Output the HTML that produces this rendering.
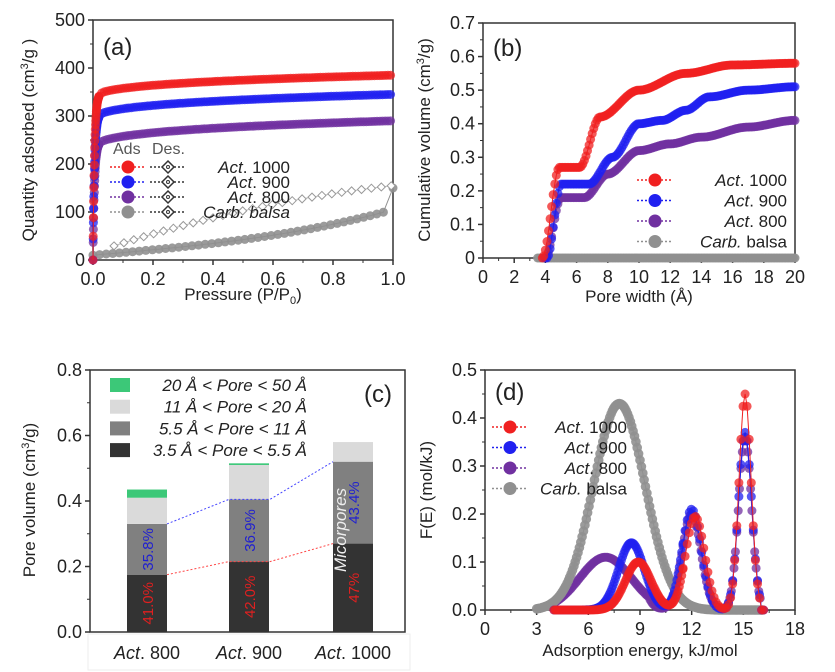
<!DOCTYPE html>
<html><head><meta charset="utf-8"><style>
body{margin:0;background:#fff;}
svg{display:block;font-family:"Liberation Sans",sans-serif;}
</style></head><body>
<svg id="s" width="835" height="672" viewBox="0 0 835 672"></svg>
<script>
let o='';
const R='#f02020',B='#2020f0',P='#7030a0',G='#909090';
function txt(x,y,t,opt={}){o+=`<text x="${x}" y="${y}" font-size="${opt.fs||16}" fill="${opt.c||'#222'}" text-anchor="${opt.a||'middle'}" ${opt.tr?`transform="${opt.tr}"`:''} ${opt.it?'font-style="italic"':''}>${t}</text>`;}
function axes(L,Rr,T,Bt,xt,yt,xmin,xmax,ymin,ymax,xl,yl,minor){
  o+=`<rect x="${L}" y="${T}" width="${Rr-L}" height="${Bt-T}" fill="none" stroke="#333" stroke-width="1.5"/>`;
  const X=v=>L+(v-xmin)/(xmax-xmin)*(Rr-L),Y=v=>Bt-(v-ymin)/(ymax-ymin)*(Bt-T);
  xt.forEach(([v,s])=>{o+=`<line x1="${X(v)}" y1="${Bt}" x2="${X(v)}" y2="${Bt+5}" stroke="#333" stroke-width="1.5"/>`;txt(X(v),Bt+25,s,{fs:18});});
  yt.forEach(([v,s])=>{o+=`<line x1="${L-5}" y1="${Y(v)}" x2="${L}" y2="${Y(v)}" stroke="#333" stroke-width="1.5"/>`;txt(L-8,Y(v)+6,s,{fs:18,a:'end'});});
  if(minor){minor.x&&minor.x.forEach(v=>o+=`<line x1="${X(v)}" y1="${Bt}" x2="${X(v)}" y2="${Bt+3}" stroke="#333"/>`);
  minor.y&&minor.y.forEach(v=>o+=`<line x1="${L-3}" y1="${Y(v)}" x2="${L}" y2="${Y(v)}" stroke="#333"/>`);}
  return [X,Y];
}
function series(pts,X,Y,c,r,op){let d='';pts.forEach(([x,y],i)=>d+=(i?'L':'M')+X(x).toFixed(1)+','+Y(y).toFixed(1));
  o+=`<path d="${d}" fill="none" stroke="${c}" stroke-width="1"/>`;
  pts.forEach(([x,y])=>o+=`<circle cx="${X(x).toFixed(1)}" cy="${Y(y).toFixed(1)}" r="${r}" fill="${c}" fill-opacity="${op||0.75}"/>`);}
function lm(x,y,c,open){o+=`<line x1="${x-18}" y1="${y}" x2="${x+18}" y2="${y}" stroke="${open?'#333':c}" stroke-dasharray="2,2" stroke-width="1.5"/>`;
  if(open)o+=`<path d="M${x},${y-6}L${x+6},${y}L${x},${y+6}L${x-6},${y}Z" fill="#fff" stroke="#333" stroke-width="1.5"/><circle cx="${x}" cy="${y}" r="1.5" fill="none" stroke="#333"/>`;
  else o+=`<circle cx="${x}" cy="${y}" r="6.5" fill="${c}"/>`;}
function interp(pts,x){if(x<=pts[0][0])return pts[0][1];for(let i=1;i<pts.length;i++){if(x<=pts[i][0]){const [x0,y0]=pts[i-1],[x1,y1]=pts[i];let t=(x-x0)/(x1-x0);t=t*t*(3-2*t);return y0+(y1-y0)*t;}}return pts[pts.length-1][1];}

// Panel (a)
let [X,Y]=axes(93,393,20,260,[[0,'0.0'],[0.2,'0.2'],[0.4,'0.4'],[0.6,'0.6'],[0.8,'0.8'],[1,'1.0']],[[0,'0'],[100,'100'],[200,'200'],[300,'300'],[400,'400'],[500,'500']],0,1,0,500,0,0,{x:[0.1,0.3,0.5,0.7,0.9],y:[50,150,250,350,450]});
txt(243,300,'Pressure (P/P<tspan font-size="11" dy="4">0</tspan><tspan dy="-4">)</tspan>',{fs:17});
txt(0,0,'Quantity adsorbed (cm<tspan font-size="11" dy="-6">3</tspan><tspan dy="6">/g )</tspan>',{fs:17,tr:'translate(34,140) rotate(-90)'});
txt(103,55,'(a)',{fs:24,a:'start'});
let ga=[],gd=[];for(let p=0;p<=0.97;p+=0.022)ga.push([p,10+55*p+40*p*p*p]);ga.push([1,150]);
series(ga,X,Y,G,4.5,0.9);
let dd='';for(let p=0.07;p<=1.001;p+=0.033){gd.push([p,15+210*p-70*p*p]);}
gd.forEach(([x,y],i)=>dd+=(i?'L':'M')+X(x)+','+Y(y));o+=`<path d="${dd}" fill="none" stroke="#bbb"/>`;
gd.forEach(([x,y])=>{const cx=X(x),cy=Y(y);o+=`<path d="M${cx},${cy-4}L${cx+4},${cy}L${cx},${cy+4}L${cx-4},${cy}Z" fill="#fff" stroke="#999"/>`;});
function iso(A,Bc){let a=[];for(let p=0;p<0.02;p+=0.0007)a.push([p,A*(1-Math.exp(-p/0.005))+Bc*Math.pow(p,0.3)]);for(let p=0.02;p<=1.001;p+=0.009)a.push([p,A*(1-Math.exp(-p/0.005))+Bc*Math.pow(p,0.3)]);return a;}
series(iso(225,65),X,Y,P,4.5);series(iso(285,60),X,Y,B,4.5);series(iso(330,55),X,Y,R,4.5);
txt(113,154,'Ads',{fs:16,a:'start',c:'#555'});txt(152,154,'Des.',{fs:16,a:'start',c:'#555'});
[[R,'1000'],[B,'900'],[P,'800'],[G,'']].forEach(([c,n],i)=>{const y=167+i*15;lm(128,y,c);lm(168,y,c,1);
 if(n)txt(290,y+6,`<tspan font-style="italic">Act</tspan>. ${n}`,{fs:17,a:'end'});else txt(290,y+6,'<tspan font-style="italic">Carb. balsa</tspan>',{fs:17,a:'end'});});

// Panel (b)
[X,Y]=axes(483,795,23,258,[0,2,4,6,8,10,12,14,16,18,20].map(v=>[v,''+v]),[0,0.1,0.2,0.3,0.4,0.5,0.6,0.7].map(v=>[v,v?v.toFixed(1):'0']),0,20,0,0.7,0,0,{x:[1,3,5,7,9,11,13,15,17,19],y:[0.05,0.15,0.25,0.35,0.45,0.55,0.65]});
txt(639,302,'Pore width (Å)',{fs:17});
txt(0,0,'Cumulative volume (cm<tspan font-size="11" dy="-6">3</tspan><tspan dy="6">/g)</tspan>',{fs:17,tr:'translate(430,140) rotate(-90)'});
txt(493,56,'(b)',{fs:24,a:'start'});
function cum(k,st){let a=[];for(let x=st;x<=20.001;x+=0.1)a.push([x,interp(k,x)]);return a;}
series(cum([[3.5,0],[20,0]],3.5),X,Y,G,4.5,0.9);
series(cum([[4,0],[5,0.18],[6.5,0.18],[8,0.25],[10,0.32],[12,0.34],[14,0.36],[17,0.39],[20,0.41]],3.9),X,Y,P,4.5);
series(cum([[4.1,0],[5,0.22],[6.8,0.22],[8.3,0.3],[10,0.4],[11.5,0.41],[13,0.44],[14.5,0.48],[17,0.5],[20,0.51]],4),X,Y,B,4.5);
series(cum([[3.8,0],[4.9,0.27],[6.2,0.27],[7.5,0.42],[10,0.5],[13,0.55],[16,0.575],[20,0.58]],3.8),X,Y,R,4.5);
[[R,'<tspan font-style="italic">Act</tspan>. 1000'],[B,'<tspan font-style="italic">Act</tspan>. 900'],[P,'<tspan font-style="italic">Act</tspan>. 800'],[G,'<tspan font-style="italic">Carb.</tspan> balsa']].forEach(([c,t],i)=>{const y=180+i*20.5;lm(655,y,c);txt(787,y+6,t,{fs:17,a:'end'});});

// Panel (c)
[X,Y]=axes(90,405,370,632,[],[0,0.2,0.4,0.6,0.8].map(v=>[v,v.toFixed(1)]),0,3,0,0.8,0,0,{y:[0.1,0.3,0.5,0.7]});
o+=`<rect x="88" y="634" width="322" height="36" fill="none" stroke="#eee"/>`;
txt(0,0,'Pore volume (cm<tspan font-size="11" dy="-6">3</tspan><tspan dy="6">/g)</tspan>',{fs:17,tr:'translate(35,500) rotate(-90)'});
const bars=[[127,[0.175,0.33,0.41,0.435],'800','41.0%','35.8%'],[229,[0.215,0.405,0.51,0.515],'900','42.0%','36.9%'],[333,[0.27,0.52,0.58,0.58],'1000','47%','43.4%']];
const cols=['#333','#808080','#dadada','#3cc878'];
bars.forEach(([x,v,n,p1,p2])=>{let prev=0;v.forEach((t,i)=>{o+=`<rect x="${x}" y="${Y(t)}" width="40" height="${Y(prev)-Y(t)}" fill="${cols[i]}"/>`;prev=t;});
 txt(x+20,659,`<tspan font-style="italic">Act</tspan>. ${n}`,{fs:18});
 txt(0,0,p1,{fs:15,c:'#e02020',tr:`translate(${x+26},${Y(v[0]/2)}) rotate(-90)`});
 txt(0,0,p2,{fs:15,c:'#2020d0',tr:`translate(${x+26},${Y((v[0]+v[1])/2)}) rotate(-90)`});});
txt(0,0,'Micorpores',{fs:17,c:'#eee',it:1,tr:'translate(346,530) rotate(-90)'});
o+=`<polyline points="167,${Y(0.33)} 229,${Y(0.405)} 270,${Y(0.405)} 333,${Y(0.52)}" fill="none" stroke="#4444ff" stroke-dasharray="2,2"/>`;
o+=`<polyline points="167,${Y(0.175)} 229,${Y(0.215)} 270,${Y(0.215)} 333,${Y(0.27)}" fill="none" stroke="#ff4444" stroke-dasharray="2,2"/>`;
[[3,'20 Å &lt; Pore &lt; 50 Å'],[2,'11 Å &lt; Pore &lt; 20 Å'],[1,'5.5 Å &lt; Pore &lt; 11 Å'],[0,'3.5 Å &lt; Pore &lt; 5.5 Å']].forEach(([k,t],i)=>{const y=385+i*21.7;o+=`<rect x="110" y="${y-7}" width="20" height="14" fill="${cols[k]}"/>`;txt(307,y+6,t,{fs:17,a:'end',it:1});});
txt(392,402,'(c)',{fs:24,a:'end'});

// Panel (d)
[X,Y]=axes(485,795,370,610,[0,3,6,9,12,15,18].map(v=>[v,''+v]),[0,0.1,0.2,0.3,0.4,0.5].map(v=>[v,v.toFixed(1)]),0,18,0,0.5,0,0,{x:[1.5,4.5,7.5,10.5,13.5,16.5],y:[0.05,0.15,0.25,0.35,0.45]});
txt(640,656,'Adsorption energy, kJ/mol',{fs:17});
txt(0,0,'F(E) (mol/kJ)',{fs:17,tr:'translate(432,490) rotate(-90)'});
txt(495,400,'(d)',{fs:24,a:'start'});
const g=(x,m,s,a)=>a*Math.exp(-((x-m)*(x-m))/(2*s*s));
function fe(f,st,en,step){let a=[];for(let x=st;x<=en;x+=step)a.push([x,Math.max(0,f(x))]);return a;}
const blue=x=>x>16?0:g(x,8.5,0.75,0.14)+g(x,12,0.55,0.21)+g(x,15.1,0.38,0.37);
const red=x=>x>16?0:g(x,8.9,0.75,0.1)+g(x,12.2,0.55,0.195)+g(x,15.1,0.35,0.45);
const purp=x=>x>16?0:g(x,7,1.5,0.11)*(x<9.5?1:Math.exp(-(x-9.5)*2))+g(x,12,0.55,0.2)+g(x,15.1,0.38,0.36);
series(fe(purp,3.5,16.2,0.08),X,Y,P,4.5);
series(fe(x=>g(x,7.8,1.5,0.43),3,16.2,0.08),X,Y,G,4.8,0.9);
series(fe(blue,4,11.5,0.07).concat(fe(blue,11.5,16.2,0.12)),X,Y,B,4.5);
series(fe(red,4,11.5,0.07).concat(fe(red,11.5,16.2,0.12)),X,Y,R,4.5);
[[R,'<tspan font-style="italic">Act</tspan>. 1000'],[B,'<tspan font-style="italic">Act</tspan>. 900'],[P,'<tspan font-style="italic">Act</tspan>. 800'],[G,'<tspan font-style="italic">Carb.</tspan> balsa']].forEach(([c,t],i)=>{const y=427+i*20.5;lm(510,y,c);txt(627,y+6,t,{fs:17,a:'end'});});

document.getElementById('s').innerHTML=o;
</script>
</body></html>
